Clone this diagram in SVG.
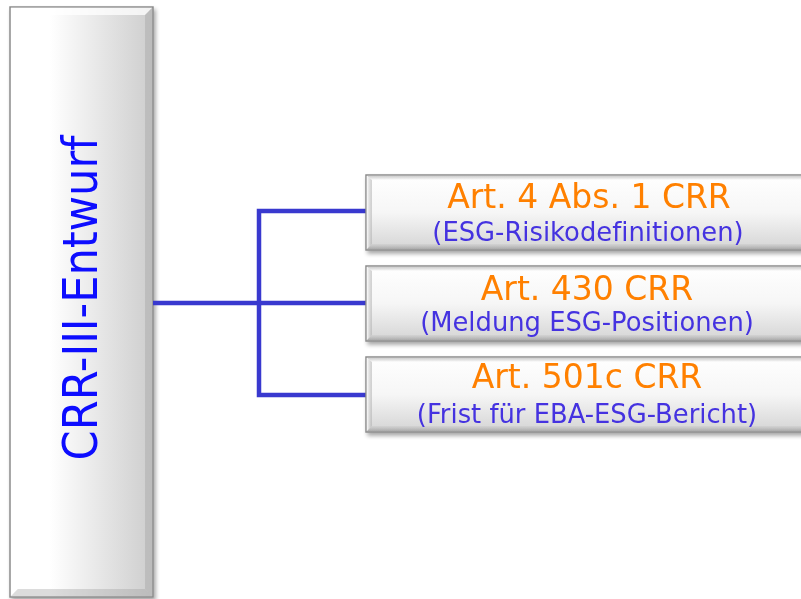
<svg xmlns="http://www.w3.org/2000/svg" width="801" height="599" viewBox="0 0 801 599">
  <defs>
    <linearGradient id="mainFill" x1="0" y1="0" x2="1" y2="0">
      <stop offset="0" stop-color="#ffffff"/>
      <stop offset="0.28" stop-color="#ffffff"/>
      <stop offset="1" stop-color="#cdcdcd"/>
    </linearGradient>
    <linearGradient id="boxFill" x1="0" y1="0" x2="0" y2="1">
      <stop offset="0" stop-color="#ffffff"/>
      <stop offset="0.5" stop-color="#f6f6f6"/>
      <stop offset="1" stop-color="#d4d4d4"/>
    </linearGradient>
    <linearGradient id="edgeLeft" x1="0" y1="0" x2="1" y2="0">
      <stop offset="0" stop-color="#ffffff" stop-opacity="0.9"/>
      <stop offset="1" stop-color="#a8a8a8" stop-opacity="0.5"/>
    </linearGradient>
    <linearGradient id="edgeTop" x1="0" y1="0" x2="0" y2="1">
      <stop offset="0" stop-color="#b8b8b8" stop-opacity="0.7"/>
      <stop offset="1" stop-color="#ffffff" stop-opacity="0.9"/>
    </linearGradient>
    <linearGradient id="edgeBottom" x1="0" y1="0" x2="0" y2="1">
      <stop offset="0" stop-color="#c8c8c8" stop-opacity="0.4"/>
      <stop offset="1" stop-color="#8a8a8a" stop-opacity="0.6"/>
    </linearGradient>
    <filter id="shadow" x="-10%" y="-10%" width="130%" height="130%">
      <feGaussianBlur in="SourceAlpha" stdDeviation="2"/>
      <feOffset dx="2" dy="3" result="b"/>
      <feComponentTransfer><feFuncA type="linear" slope="0.35"/></feComponentTransfer>
      <feMerge><feMergeNode/><feMergeNode in="SourceGraphic"/></feMerge>
    </filter>
  </defs>
  <style>
    .frame { stroke: #8c8c8c; stroke-width: 1.5; }
    .hi { fill: #ffffff; opacity: 0.75; }
    .lo { fill: #9a9a9a; opacity: 0.35; }
    text { font-family: "DejaVu Sans", Verdana, sans-serif; font-variant-ligatures: none; text-anchor: middle; }
    .head { font-size: 33px; fill: #ff8000; }
    .sub { font-size: 25.8px; fill: #4433e0; }
    .title { font-family: "DejaVu Sans", sans-serif; font-stretch: condensed; font-size: 48px; fill: #0a0aff; }
    .wire { fill: none; stroke: #3939cf; stroke-width: 4.5; stroke-linejoin: miter; }
  </style>

  <!-- root node -->
  <g id="root" filter="url(#shadow)">
    <rect x="10" y="7" width="143" height="590" fill="url(#mainFill)" class="frame"/>
    <polygon class="hi" points="10.8,7.8 152.2,7.8 145,15 17.8,15"/>
    <polygon class="lo" points="152.2,7.8 152.2,596.2 145,589 145,15"/>
    <polygon class="lo" points="10.8,596.2 152.2,596.2 145,589 17.8,589"/>
    <text class="title" transform="translate(97,298) rotate(-90)">CRR-III-Entwurf</text>
  </g>

  <!-- connectors -->
  <g id="connectors">
    <line class="wire" x1="153" y1="303" x2="366" y2="303"/>
    <polyline class="wire" points="366,211 259,211 259,395 366,395"/>
  </g>

  <!-- child nodes -->
  <g id="art4" filter="url(#shadow)">
    <rect x="366" y="175" width="450" height="75" fill="url(#boxFill)" class="frame"/>
    <polygon fill="url(#edgeTop)" points="366.8,175.8 815,175.8 815,180 372,180"/>
    <polygon fill="url(#edgeLeft)" points="366.8,175.8 372,180 372,244 366.8,249.2"/>
    <polygon fill="url(#edgeBottom)" points="366.8,249.2 372,244 815,244 815,249.2"/>
    <text class="head" x="589" y="208">Art. 4 Abs. 1 CRR</text>
    <text class="sub" x="588" y="241">(ESG-Risikodefinitionen)</text>
  </g>

  <g id="art430" filter="url(#shadow)">
    <rect x="366" y="266" width="450" height="75" fill="url(#boxFill)" class="frame"/>
    <polygon fill="url(#edgeTop)" points="366.8,266.8 815,266.8 815,271 372,271"/>
    <polygon fill="url(#edgeLeft)" points="366.8,266.8 372,271 372,335 366.8,340.2"/>
    <polygon fill="url(#edgeBottom)" points="366.8,340.2 372,335 815,335 815,340.2"/>
    <text class="head" x="587" y="300">Art. 430 CRR</text>
    <text class="sub" x="587" y="331">(Meldung ESG-Positionen)</text>
  </g>

  <g id="art501c" filter="url(#shadow)">
    <rect x="366" y="357" width="450" height="75" fill="url(#boxFill)" class="frame"/>
    <polygon fill="url(#edgeTop)" points="366.8,357.8 815,357.8 815,362 372,362"/>
    <polygon fill="url(#edgeLeft)" points="366.8,357.8 372,362 372,426 366.8,431.2"/>
    <polygon fill="url(#edgeBottom)" points="366.8,431.2 372,426 815,426 815,431.2"/>
    <text class="head" x="587" y="388">Art. 501c CRR</text>
    <text class="sub" x="587" y="423">(Frist für EBA-ESG-Bericht)</text>
  </g>
</svg>
